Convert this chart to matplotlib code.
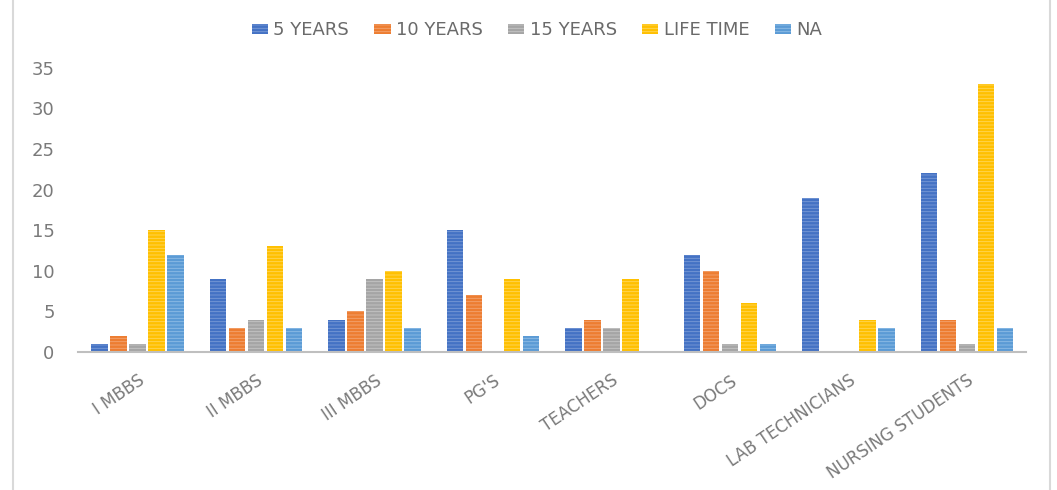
import numpy as np
import matplotlib
matplotlib.use("Agg")
import matplotlib.pyplot as plt

categories = ["I MBBS", "II MBBS", "III MBBS", "PG'S", "TEACHERS", "DOCS",
              "LAB TECHNICIANS", "NURSING STUDENTS"]
series_names = ["5 YEARS", "10 YEARS", "15 YEARS", "LIFE TIME", "NA"]
five_years = [1, 9, 4, 15, 3, 12, 19, 22]
ten_years = [2, 3, 5, 7, 4, 10, 0, 4]
fifteen_years = [1, 4, 9, 0, 3, 1, 0, 1]
life_time = [15, 13, 10, 9, 9, 6, 4, 33]
na = [12, 3, 3, 2, 0, 1, 3, 3]
y_ticks = [0, 5, 10, 15, 20, 25, 30, 35]

series = [five_years, ten_years, fifteen_years, life_time, na]
colors = ["#4472C4", "#ED7D31", "#A5A5A5", "#FFC000", "#5B9BD5"]
stripe = ["#7A9AD6", "#F3A472", "#C6C6C6", "#FFD75A", "#8FBDE6"]

plt.rcParams['font.family'] = ['DejaVu Sans']
plt.rcParams['hatch.linewidth'] = 0.6

fig = plt.figure(figsize=(10.57, 4.9), dpi=100)
ax = fig.add_axes([0.074, 0.2816, 0.897, 0.58])

x = np.arange(len(categories))
slot = 0.16
bw = 0.138
for i, (vals, c, sc, name) in enumerate(zip(series, colors, stripe, series_names)):
    pos = x + (i - 2) * slot
    bars = ax.bar(pos, vals, width=bw, color=c, label=name, zorder=2)
    for b in bars:
        b.set_hatch('-----')
        b.set_edgecolor(sc)
        b.set_linewidth(0)

ax.set_xlim(-0.5, len(categories) - 0.5)
ax.set_ylim(0, 35)
ax.set_yticks(y_ticks)
ax.set_yticklabels([str(t) for t in y_ticks], fontsize=13, color="#7A7A7A")
ax.set_xticks(x)
ax.set_xticklabels(categories, rotation=34, ha="right", va="top",
                   rotation_mode="anchor", fontsize=12, color="#7A7A7A")
ax.tick_params(axis="both", length=0)
ax.tick_params(axis="y", pad=17)
ax.tick_params(axis="x", pad=14)
for s in ["top", "right", "left"]:
    ax.spines[s].set_visible(False)
ax.spines["bottom"].set_color("#BFBFBF")
ax.spines["bottom"].set_linewidth(1.5)

handles, labels = ax.get_legend_handles_labels()
leg = fig.legend(handles, labels, loc="center", bbox_to_anchor=(0.508, 0.938), ncol=5,
                 frameon=False, fontsize=13, handlelength=0.9, handleheight=0.5,
                 handletextpad=0.3, columnspacing=1.4)
for t in leg.get_texts():
    t.set_color("#6A6A6A")

# outer frame lines
fig.add_artist(plt.Line2D([0.012, 0.012], [0.0, 1.0], color="#D9D9D9", lw=1.5))
fig.add_artist(plt.Line2D([0.993, 0.993], [0.0, 1.0], color="#D9D9D9", lw=1.5))

fig.savefig("out.png", dpi=100)
